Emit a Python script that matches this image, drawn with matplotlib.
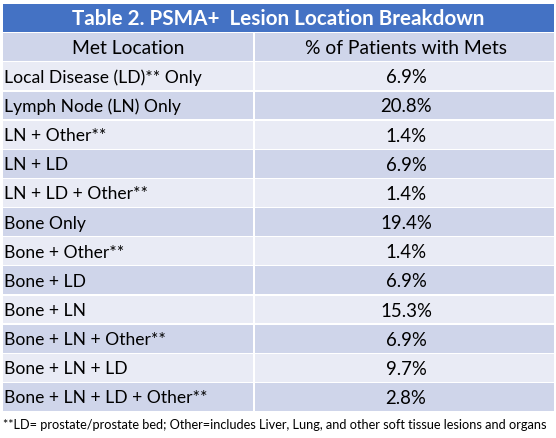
import matplotlib
matplotlib.use("Agg")
import matplotlib.pyplot as plt
from matplotlib.patches import Rectangle

title = "Table 2. PSMA+  Lesion Location Breakdown"
col_headers = ["Met Location", "% of Patients with Mets"]
locations = [
    "Local Disease (LD)** Only",
    "Lymph Node (LN) Only",
    "LN + Other**",
    "LN + LD",
    "LN + LD + Other**",
    "Bone Only",
    "Bone + Other**",
    "Bone + LD",
    "Bone + LN",
    "Bone + LN + Other**",
    "Bone + LN + LD",
    "Bone + LN + LD + Other**",
]
percents = [6.9, 20.8, 1.4, 6.9, 1.4, 19.4, 1.4, 6.9, 15.3, 6.9, 9.7, 2.8]
footnote = "**LD= prostate/prostate bed; Other=includes Liver, Lung, and other soft tissue lesions and organs"

BLUE = "#4472C4"
DARK = "#CFD5EA"
LIGHT = "#E9EBF5"
FONT = ["Lato", "DejaVu Sans"]

W, H = 556, 439
fig = plt.figure(figsize=(W / 100, H / 100), dpi=100)
ax = fig.add_axes([0, 0, 1, 1])
ax.set_xlim(0, W)
ax.set_ylim(H, 0)
ax.axis("off")

left, right, split = 3, 554, 254
top = 4.5
title_h = 28.5
row_h = 29.15
gap = 1.2
c2x = 406

# title band
ax.add_patch(Rectangle((left, top), right - left, title_h, color=BLUE, lw=0))
ax.text(278, top + title_h / 2 + 0.5, title, ha="center", va="center",
        color="white", fontsize=14.9, fontweight="bold", family=FONT)

y0 = top + title_h + gap
rows = [tuple(col_headers)] + [(loc, f"{p:.1f}%") for loc, p in zip(locations, percents)]
for i, (c1, c2) in enumerate(rows):
    y = y0 + i * row_h
    col = DARK if i % 2 == 0 else LIGHT
    ax.add_patch(Rectangle((left, y), split - left - 0.6, row_h - gap, color=col, lw=0))
    ax.add_patch(Rectangle((split + 0.6, y), right - split - 0.6, row_h - gap, color=col, lw=0))
    yc = y + (row_h - gap) / 2 + 0.5
    if i == 0:
        ax.text((left + split) / 2, yc, c1, ha="center", va="center", fontsize=13.9,
                family=FONT, color="black")
        ax.text(c2x, yc, c2, ha="center", va="center", fontsize=13.9,
                family=FONT, color="black")
    else:
        ax.text(left + 1.5, yc, c1, ha="left", va="center", fontsize=12.6,
                family=FONT, color="black")
        ax.text(c2x, yc, c2, ha="center", va="center", fontsize=13.4,
                family=FONT, color="black")

ax.text(3, 425, footnote, ha="left", va="center", fontsize=9.2, family=FONT, color="black")

fig.savefig("out.png", dpi=100)
